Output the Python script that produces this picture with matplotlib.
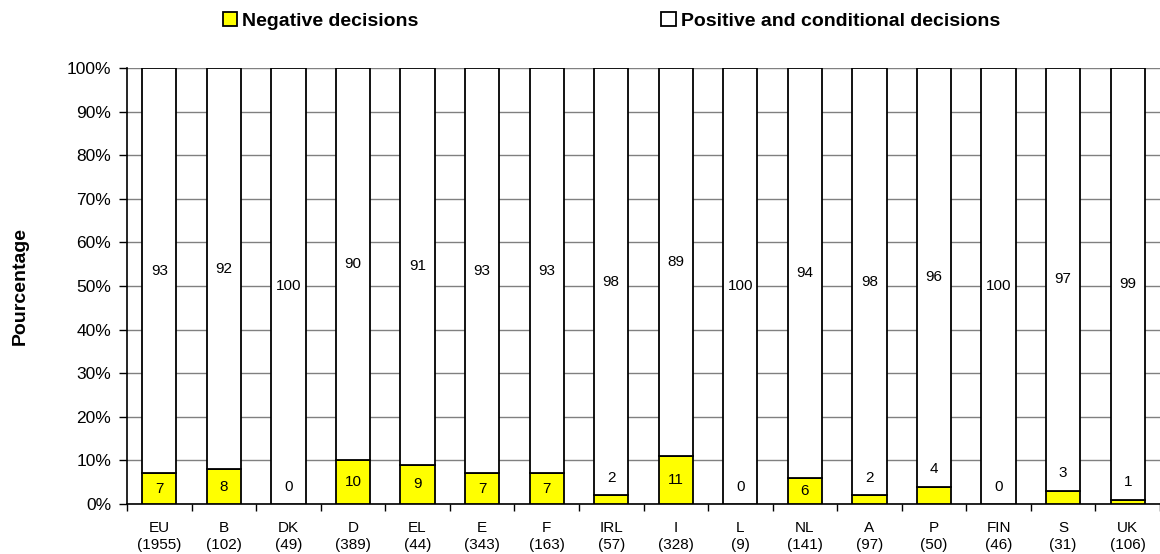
import matplotlib.pyplot as plt
from matplotlib.patches import Patch
import numpy as np

plt.rcParams['font.family'] = ['Liberation Sans', 'DejaVu Sans']

# Decisions per member state, negative share in %
pays = ['EU', 'B', 'DK', 'D', 'EL', 'E', 'F', 'IRL', 'I', 'L', 'NL', 'A', 'P', 'FIN', 'S', 'UK']
nb = [1955, 102, 49, 389, 44, 343, 163, 57, 328, 9, 141, 97, 50, 46, 31, 106]
negatif = [7, 8, 0, 10, 9, 7, 7, 2, 11, 0, 6, 2, 4, 0, 3, 1]
positif = [93, 92, 100, 90, 91, 93, 93, 98, 89, 100, 94, 98, 96, 100, 97, 99]

fig = plt.figure(figsize=(11.6, 5.54), dpi=100)
ax = fig.add_axes([0.1095, 0.0903, 0.8905, 0.787])

x = np.arange(len(pays))
w = 0.53
ax.bar(x, negatif, w, color='#ffff00', edgecolor='black', linewidth=1.3, zorder=3)
ax.bar(x, positif, w, bottom=negatif, color='white', edgecolor='black', linewidth=1.3, zorder=3)

# value labels
for i in range(len(pays)):
    if negatif[i] >= 5:
        yn = negatif[i] / 2
    else:
        yn = negatif[i] + 4
    ax.text(x[i], yn, str(negatif[i]), ha='center', va='center', fontsize=11, zorder=4)
    ax.text(x[i], negatif[i] + positif[i] / 2, str(positif[i]), ha='center', va='center',
            fontsize=11, zorder=4)

ax.set_xlim(-0.5, len(pays) - 0.5)
ax.set_ylim(0, 100)
ax.set_yticks(np.arange(0, 101, 10))
ax.set_yticklabels([str(v) + '%' for v in range(0, 101, 10)], fontsize=12.5)
ax.yaxis.grid(True, color='#808080', linewidth=1, zorder=0)
ax.tick_params(axis='y', length=5.5, width=1, direction='out', pad=6)

ax.set_xticks(x)
ax.set_xticklabels([p + '\n(' + str(n) + ')' for p, n in zip(pays, nb)], fontsize=11, linespacing=1.3)
ax.tick_params(axis='x', which='major', length=0, pad=12)
ax.set_xticks(np.arange(-0.5, len(pays), 1), minor=True)
ax.tick_params(axis='x', which='minor', length=5, width=1, direction='out')

for s in ['top', 'right']:
    ax.spines[s].set_visible(False)
for s in ['left', 'bottom']:
    ax.spines[s].set_color('black')
    ax.spines[s].set_linewidth(1.2)

ax.set_ylabel('Pourcentage', fontsize=14, fontweight='bold', labelpad=27)

leg_font = {'size': 14, 'weight': 'bold'}
h_neg = Patch(facecolor='#ffff00', edgecolor='black', linewidth=1.3, label='Negative decisions')
h_pos = Patch(facecolor='white', edgecolor='black', linewidth=1.3, label='Positive and conditional decisions')
leg1 = fig.legend(handles=[h_neg], loc='center left', bbox_to_anchor=(0.192, 0.962), frameon=False,
                  prop=leg_font, handlelength=0.75, handleheight=0.75, handletextpad=0.25,
                  borderaxespad=0, borderpad=0)
leg2 = fig.legend(handles=[h_pos], loc='center left', bbox_to_anchor=(0.570, 0.962), frameon=False,
                  prop=leg_font, handlelength=0.75, handleheight=0.75, handletextpad=0.25,
                  borderaxespad=0, borderpad=0)

plt.savefig('out.png', dpi=100)
